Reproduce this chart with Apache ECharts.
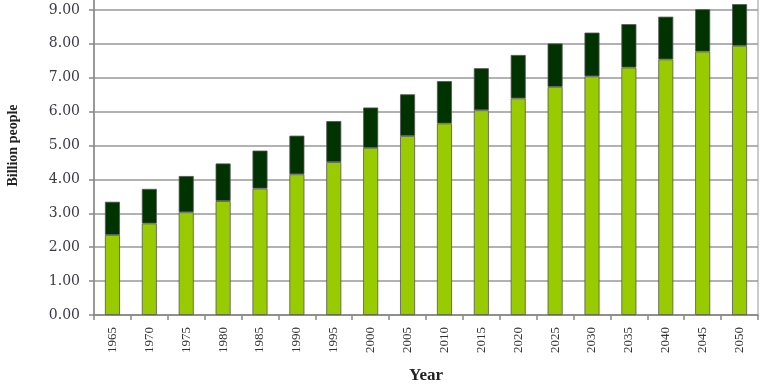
<!DOCTYPE html>
<html><head><meta charset="utf-8">
<script src="https://cdn.jsdelivr.net/npm/echarts@6/dist/echarts.min.js"></script>
<style>html,body{margin:0;padding:0;background:#fff}#c{width:768px;height:384px}</style>
</head><body><div id="c"></div>
<script>
var years = ['1965','1970','1975','1980','1985','1990','1995','2000','2005','2010','2015','2020','2025','2030','2035','2040','2045','2050'];
var lowerPart = [2.36,2.70,3.03,3.36,3.73,4.15,4.51,4.93,5.28,5.65,6.04,6.39,6.73,7.04,7.30,7.54,7.77,7.94];
var upperPart = [0.98,1.02,1.07,1.11,1.12,1.14,1.21,1.19,1.23,1.25,1.24,1.28,1.28,1.29,1.28,1.26,1.25,1.23];
var yTicks = {min:0, max:10, interval:1};

var chart = echarts.init(document.getElementById('c'), null, {renderer:'canvas'});
var serif = '"Liberation Serif","DejaVu Serif",serif';
chart.setOption({
  animation:false,
  grid:{left:94, right:10, top:-24, bottom:69, show:true, borderColor:'#999', borderWidth:1,
        containLabel:false, outerBoundsMode:'none'},
  xAxis:{
    type:'category', data:years,
    name:'Year', nameLocation:'middle', nameGap:52,
    nameTextStyle:{fontFamily:serif, fontWeight:'bold', fontSize:17, color:'#222'},
    axisLine:{lineStyle:{color:'#888', width:1.5}},
    axisTick:{show:true, alignWithLabel:false, length:5, lineStyle:{color:'#888', width:1.5}},
    axisLabel:{rotate:90, margin:12, fontFamily:serif, fontSize:13, color:'#333'}
  },
  yAxis:{
    type:'value', min:yTicks.min, max:yTicks.max, interval:yTicks.interval,
    name:'Billion people', nameLocation:'middle', nameGap:74,
    nameTextStyle:{fontFamily:serif, fontWeight:'bold', fontSize:14, color:'#222'},
    axisLine:{show:true, lineStyle:{color:'#888', width:1.5}},
    axisTick:{show:true, length:5, lineStyle:{color:'#888', width:1.5}},
    splitLine:{lineStyle:{color:'#999', width:1.5}},
    axisLabel:{margin:14, fontFamily:'"DejaVu Serif",serif', fontSize:14, color:'#3a3a48',
      formatter:function(v){return v.toFixed(2);}}
  },
  series:[
    {type:'bar', stack:'pop', data:lowerPart, barWidth:15,
     itemStyle:{color:'#99cc00', borderColor:'#555', borderWidth:0.8}},
    {type:'bar', stack:'pop', data:upperPart, barWidth:15,
     itemStyle:{color:'#003300', borderColor:'#555', borderWidth:0.8}}
  ]
});
</script></body></html>
